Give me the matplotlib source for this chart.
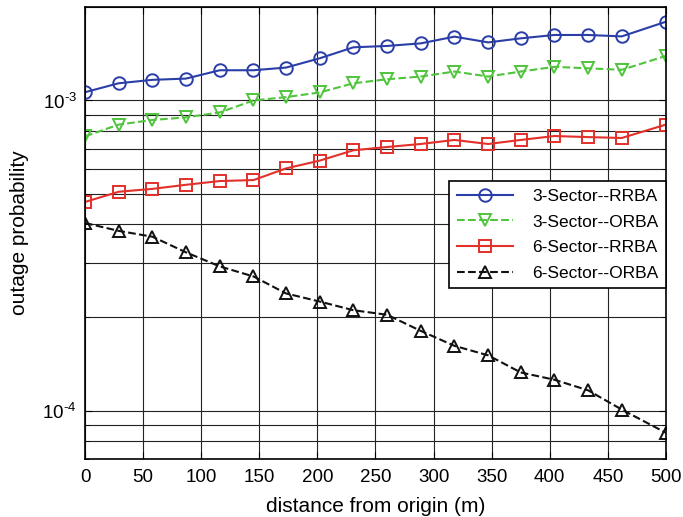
import numpy as np
import matplotlib
matplotlib.use('Agg')
import matplotlib.pyplot as plt
from matplotlib.ticker import LogLocator, FixedLocator, FixedFormatter, NullFormatter

plt.rcParams['font.family'] = ['Liberation Sans', 'DejaVu Sans']
plt.rcParams['mathtext.fontset'] = 'custom'
plt.rcParams['mathtext.rm'] = 'Liberation Sans'

# distance from origin (m)
distance = [0, 29, 58, 87, 116, 145, 173, 202, 231, 260, 289, 318, 347, 375, 404, 433, 462, 500]

# outage probability for each scheme
sec3_rrba = [1.063e-3, 1.136e-3, 1.165e-3, 1.176e-3, 1.251e-3, 1.251e-3, 1.276e-3, 1.367e-3, 1.483e-3,
             1.498e-3, 1.527e-3, 1.605e-3, 1.538e-3, 1.585e-3, 1.625e-3, 1.625e-3, 1.608e-3, 1.793e-3]
sec3_orba = [7.66e-4, 8.36e-4, 8.65e-4, 8.82e-4, 9.15e-4, 1.0e-3, 1.025e-3, 1.061e-3, 1.136e-3,
             1.17e-3, 1.194e-3, 1.239e-3, 1.194e-3, 1.239e-3, 1.283e-3, 1.269e-3, 1.255e-3, 1.391e-3]
sec6_rrba = [4.71e-4, 5.08e-4, 5.19e-4, 5.35e-4, 5.50e-4, 5.54e-4, 6.04e-4, 6.40e-4, 6.91e-4,
             7.08e-4, 7.24e-4, 7.46e-4, 7.24e-4, 7.46e-4, 7.68e-4, 7.62e-4, 7.57e-4, 8.36e-4]
sec6_orba = [4.03e-4, 3.80e-4, 3.64e-4, 3.24e-4, 2.92e-4, 2.71e-4, 2.39e-4, 2.25e-4, 2.11e-4,
             2.04e-4, 1.81e-4, 1.62e-4, 1.51e-4, 1.33e-4, 1.26e-4, 1.165e-4, 1.01e-4, 8.50e-5]

fig = plt.figure(figsize=(6.83, 5.17), dpi=100)
ax = fig.add_axes([0.1245, 0.1122, 0.8505, 0.8743])

mk = dict(markersize=9, markerfacecolor='none', markeredgewidth=1.4, linewidth=1.5)
ax.plot(distance, sec3_rrba, '-', color='#2b3ea8', marker='o', label='3-Sector--RRBA', **mk)
ax.plot(distance, sec3_orba, '--', color='#4fc43c', marker='v', label='3-Sector--ORBA', **mk)
ax.plot(distance, sec6_rrba, '-', color='#e2302a', marker='s', label='6-Sector--RRBA', **mk)
ax.plot(distance, sec6_orba, '--', color='#111111', marker='^', label='6-Sector--ORBA', **mk)

ax.set_yscale('log')
ax.set_xlim(0, 500)
ax.set_ylim(7e-5, 2e-3)
ax.set_xticks(np.arange(0, 501, 50))
ax.yaxis.set_major_locator(FixedLocator([1e-4, 1e-3]))
ax.yaxis.set_major_formatter(FixedFormatter([r'$10^{\text{-}4}$', r'$10^{\text{-}3}$']))
ax.yaxis.set_minor_locator(LogLocator(base=10, subs=np.arange(2, 10)))
ax.yaxis.set_minor_formatter(NullFormatter())

ax.grid(True, which='both', color='#222222', linewidth=0.8, linestyle='-')
ax.tick_params(direction='in', top=True, right=True, labelsize=13.5, length=5)
ax.tick_params(axis='x', pad=7)
ax.tick_params(axis='y', pad=6)
ax.tick_params(which='minor', direction='in', right=True, length=3)
for s in ax.spines.values():
    s.set_linewidth(1.2)

ax.set_xlabel('distance from origin (m)', fontsize=15, labelpad=8)
ax.set_ylabel('outage probability', fontsize=15, labelpad=10)

leg = ax.legend(loc='upper right', bbox_to_anchor=(1.0, 0.615), fontsize=12.5,
                fancybox=False, framealpha=1, edgecolor='black', borderaxespad=0,
                handlelength=3.2, labelspacing=0.6, borderpad=0.45, handletextpad=1.1)
leg.get_frame().set_linewidth(1.2)

fig.savefig('out.png', dpi=100)
